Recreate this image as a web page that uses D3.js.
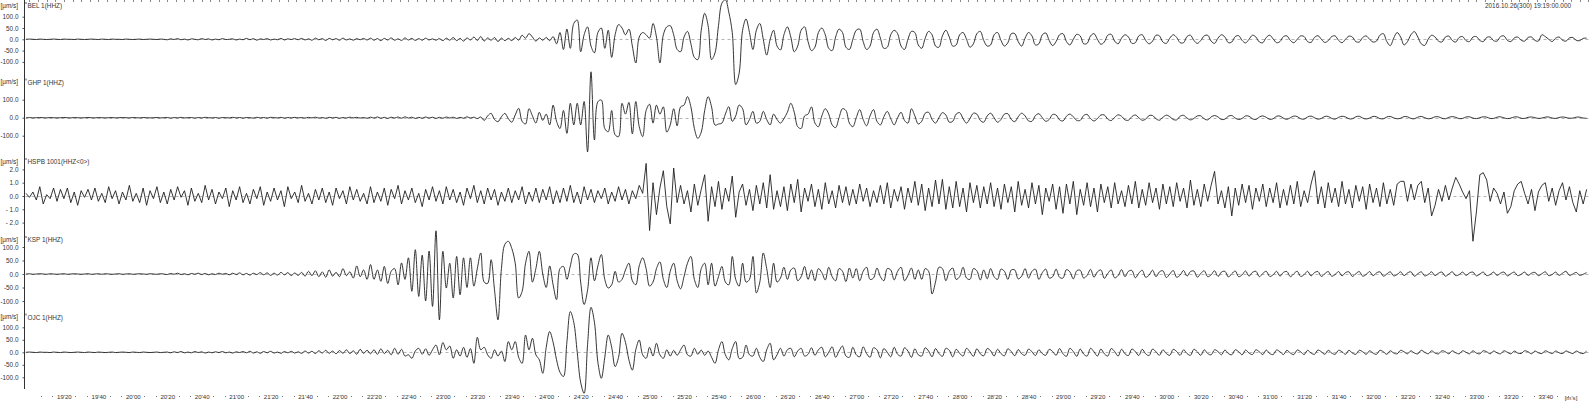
<!DOCTYPE html>
<html>
<head>
<meta charset="utf-8">
<script src="https://cdn.jsdelivr.net/npm/d3@7"></script>
<style>
  html, body { margin: 0; padding: 0; background: #fff; }
  svg { display: block; }
  text { font-family: "Liberation Sans", Arial, sans-serif; font-size: 6.4px; fill: #333; }
  .time-axis text { font-size: 6.1px; }
</style>
</head>
<body>
<div id="seismo"></div>
<script>
// seconds counted from 19'00 of the hour; one sample every 2 s
const START_SEC = 1138;
const STEP_SEC = 2;

const stationNames = ["BEL 1(HHZ)", "GHP 1(HHZ)", "HSPB 1001(HHZ<0>)", "KSP 1(HHZ)", "OJC 1(HHZ)"];
const unitLabel = "[µm/s]";
const headerLabel = "2016.10.26(300) 19:19:00.000";
const timeUnitLabel = "[m's]";

const belTicks = [100, 50, 0, -50, -100];
const ghpTicks = [100, 0, -100];
const hspbTicks = [2, 1, 0, -1, -2];
const kspTicks = [100, 50, 0, -50, -100];
const ojcTicks = [100, 50, 0, -50, -100];

const timeTicks = d3.range(1160, 2021, 20);   // 19'20 ... 33'40
const topTimeTicks = d3.range(1140, 2046, 5);
const dotTimeTicks = d3.range(0, 136).map(k => 1140 + (k * 20) / 3).filter((t, k) => k % 3 !== 0);

const belValues = [
  0,1,0,-1,1,0,-1,0,1,0,-1,1,0,0,-1,1,0,-1,0,1,
  0,-1,1,0,-1,1,0,0,-1,1,0,-1,0,1,-1,0,1,0,-1,1,
  0,-2,2,-1,3,-2,1,-3,2,0,-2,3,-1,2,-3,1,-2,3,-1,0,
  2,-3,1,-2,4,-2,3,-4,2,-1,3,-3,1,-2,4,-3,2,-1,3,-2,
  4,-3,2,-4,5,-2,3,-5,4,-2,3,-4,5,-3,2,-4,3,-2,4,-3,
  5,-4,3,-6,4,-3,6,-4,2,-5,6,-3,4,-5,3,-4,5,-3,2,-4,
  3,-6,5,-4,8,-6,4,-8,6,-3,10,-5,12,-8,6,-4,8,-10,5,-6,
  4,-6,8,-4,18,5,25,10,-8,6,-4,8,-6,12,-20,30,-45,45,-40,70,
  85,-55,20,55,-30,-60,30,50,-40,40,-80,20,65,50,20,45,-30,-105,10,30,
  20,5,70,10,-105,20,55,60,20,-45,-55,10,35,-20,-80,-90,40,115,60,-90,
  -60,60,160,175,120,30,-200,-150,40,90,30,-45,40,70,0,-70,0,40,-30,-47,
  20,55,10,-55,-30,40,55,-10,-50,-35,30,50,20,-40,-50,10,45,30,-35,-45,
  0,40,45,-10,-45,-30,30,45,5,-40,-35,20,40,25,-30,-45,0,35,30,-25,
  -40,5,35,20,-30,-35,15,40,10,-30,-25,20,30,0,-35,-20,25,35,-5,-30,
  -25,20,30,-5,-30,-15,25,25,-10,-30,5,30,15,-25,-20,20,28,-5,-28,-10,
  20,25,-10,-25,0,22,15,-20,-18,15,25,0,-22,-12,18,22,-8,-20,5,20,
  10,-18,-15,15,20,-5,-20,-8,18,15,-12,-18,5,20,8,-15,-15,12,18,-5,
  -18,-5,15,18,-8,-18,5,20,10,-15,-12,12,16,-5,-16,0,18,10,-12,-15,
  8,18,2,-15,-10,12,15,-5,-15,0,15,12,-10,-14,8,16,0,-14,-6,12,
  15,-5,-15,0,14,10,-10,-12,8,15,0,-12,-8,18,25,-10,-28,5,30,10,
  -25,-10,20,34,10,-20,-27,0,18,10,-8,-12,10,14,-5,-12,8,12,-6,-10,
  10,12,-5,-10,8,10,-6,-8,12,15,-5,-10,6,10,-4,-8,8,10,-5,-8,
  20,12,0,-10,5,10,-4,-8,6,8,-5,-6,4,5
];

const ghpValues = [
  0,1,-1,0,1,0,-1,1,0,-1,0,1,0,-1,1,0,-1,0,1,0,
  -1,1,0,-1,0,1,-1,0,1,0,-1,1,0,-1,1,0,-1,0,1,-1,
  0,1,-2,1,-1,2,-1,0,1,-2,1,-1,2,0,-1,1,-2,1,0,-1,
  2,-1,1,-2,1,0,-2,2,-1,1,-2,2,0,-1,2,-2,1,-1,2,-1,
  1,-2,2,-1,3,-2,1,-3,2,-1,2,-3,1,-2,3,-1,2,-2,1,-3,
  3,-2,4,-3,2,-4,3,-2,4,-3,5,-2,3,-4,2,-3,4,-2,3,-4,
  2,-3,4,-2,3,-4,2,-3,5,-2,3,-5,4,-15,10,24,-10,-22,5,24,
  -5,-25,15,52,-20,-35,50,10,-30,30,-15,20,-40,70,-20,-60,40,-87,80,-40,
  80,-40,90,-190,255,-124,89,98,-60,-78,40,-95,-105,80,20,85,-90,90,-50,-105,
  40,75,-30,70,20,60,-80,-40,50,-45,60,70,117,60,-60,-115,-80,40,117,60,
  -41,-35,-30,20,61,-20,10,70,50,-40,-10,35,-30,-20,35,-10,-40,20,-10,-30,
  -5,30,80,30,-50,-60,10,20,60,-30,-50,10,50,20,-40,-55,0,50,40,-30,
  -50,0,45,-10,-45,10,45,-20,-40,5,35,-5,-40,0,30,-15,-30,50,10,-35,
  -20,25,30,-10,-30,0,28,15,-25,-20,20,28,-5,-30,-5,25,20,-15,-25,10,
  25,0,-25,-10,20,22,-10,-22,5,25,10,-18,-20,12,22,0,-20,-10,18,15,
  -12,-18,8,20,5,-15,-15,12,18,-5,-18,-5,15,15,-8,-16,2,16,8,-12,
  -14,6,15,0,-14,-8,12,12,-6,-14,2,14,6,-10,-12,8,13,-2,-12,-4,
  10,10,-6,-12,4,12,4,-10,-8,8,12,-2,-10,-4,10,8,-6,-10,4,10,
  2,-9,-6,8,9,-3,-9,0,9,6,-6,-8,4,9,0,-8,-4,7,7,-4,
  -8,2,8,4,-6,-6,5,8,-2,-7,-2,7,5,-5,-6,4,7,-1,-6,-3,
  6,5,-4,-6,3,7,0,-6,-3,5,5,-3,-6,2,6,2,-5,-4,4,5,
  -2,-5,0,5,3,-4,-4,3,5,-1,-5,-2,4,4,-3,-4,2,4,0,-4,
  -2,3,4,-2,-4,1,4,1,-3,-2,3,3,-2,-3
];

const hspbValues = [
  0.2,-0.1,0.3,-0.3,0.7,-0.6,0.1,-0.2,0.6,-0.4,0.5,-0.2,0.6,-0.5,0.3,-0.7,0.4,-0.1,0.5,-0.3,
  0.6,-0.4,0.2,-0.5,0.7,-0.2,0.4,-0.6,0.3,-0.3,0.8,-0.4,0.2,-0.5,0.6,-0.7,0.4,-0.2,0.7,-0.5,
  0.3,-0.6,0.5,-0.3,0.7,-0.1,0.4,-0.7,0.6,-0.4,0.2,-0.5,0.8,-0.3,0.5,-0.6,0.3,-0.2,0.6,-0.8,
  0.4,-0.3,0.7,-0.5,0.2,-0.6,0.5,-0.2,0.7,-0.7,0.3,-0.4,0.6,-0.3,0.4,-0.8,0.7,-0.2,0.3,-0.5,
  0.8,-0.4,0.2,-0.6,0.5,-0.3,0.6,-0.5,0.3,-0.7,0.6,-0.2,0.4,-0.6,0.7,-0.3,0.5,-0.4,0.2,-0.6,
  0.7,-0.5,0.3,-0.4,0.6,-0.7,0.5,-0.2,0.8,-0.6,0.4,-0.3,0.6,-0.5,0.2,-0.8,0.5,-0.3,0.7,-0.4,
  0.4,-0.6,0.7,-0.3,0.5,-0.5,0.3,-0.7,0.6,-0.2,0.8,-0.5,0.4,-0.6,0.6,-0.3,0.5,-0.7,0.3,-0.4,
  0.6,-0.5,0.4,-0.3,0.7,-0.6,0.3,-0.4,0.6,-0.5,0.5,-0.3,0.7,-0.6,0.4,-0.5,0.6,-0.4,0.8,-0.5,
  0.3,-0.6,0.7,-0.3,0.5,-0.5,0.4,-0.2,0.6,-0.6,0.3,-0.4,0.7,-0.3,0.5,-0.6,0.4,-0.2,0.8,0.2,
  2.45,-2.6,1.0,-1.4,0.6,1.9,-0.8,-2.1,2.1,-0.5,0.8,-0.6,0.4,-1.2,0.9,-0.7,0.5,1.6,-1.9,0.7,
  -0.8,1.1,-1.0,0.6,-0.4,1.5,-1.6,0.3,0.9,-0.7,0.5,-1.1,0.8,-0.6,1.0,-0.9,1.6,-1.0,0.4,-0.8,
  0.7,-1.1,0.9,-0.5,1.25,-1.2,0.6,-0.4,0.9,-0.8,0.5,-1.0,1.0,-0.6,0.4,-0.9,0.8,-0.5,0.7,-0.7,
  0.5,-0.6,0.9,-0.4,0.6,-0.8,0.4,-0.5,0.8,-0.6,1.0,-0.9,0.5,-0.4,0.7,-1.0,0.6,-0.5,1.1,-0.7,
  0.9,-1.1,0.6,-0.8,1.2,-0.6,1.25,-1.0,0.7,-0.9,1.1,-0.8,0.6,-1.2,1.0,-0.5,0.8,-0.9,0.7,-0.6,
  1.0,-0.8,0.6,-1.0,0.9,-0.5,0.7,-1.2,1.1,-0.7,0.5,-0.9,1.0,-0.6,0.8,-1.4,0.6,-0.4,0.9,-1.0,
  0.7,-1.3,0.9,-0.6,1.1,-1.4,0.5,-0.7,1.0,-0.8,0.6,-1.2,0.9,-0.5,0.7,-0.9,1.0,-0.6,0.4,-0.8,
  0.8,-0.6,1.1,-0.9,0.5,-0.7,1.0,-0.5,0.6,-1.0,0.9,-0.6,0.7,-0.8,1.0,-0.4,0.6,-0.9,1.2,-0.7,
  0.5,-0.8,0.9,-0.4,0.8,1.85,-0.6,0.4,-0.9,0.7,-1.5,0.6,-0.7,0.9,-0.5,0.8,-1.0,0.6,-0.4,0.9,
  -0.8,0.6,-0.5,1.0,-0.9,0.5,-0.7,0.8,-0.6,1.1,-0.8,0.4,-0.5,0.9,1.9,-0.6,0.7,-0.9,1.0,-0.5,
  0.6,-0.8,1.1,-0.6,0.5,-0.9,0.8,-0.4,0.7,-1.0,0.9,-0.5,0.6,-0.8,1.0,-0.6,0.5,-0.7,0.9,1.1,
  1.1,-0.4,0.9,-0.3,0.8,1.1,-0.5,0.6,-1.5,-0.7,0.5,-0.4,0.8,-0.3,0.6,1.4,0.9,0.3,-0.2,0.4,
  -3.4,-1.2,1.6,1.75,1.2,-0.4,0.6,0.2,-0.6,0.3,-1.3,-0.8,0.4,0.9,1.1,0.2,-0.6,0.5,-1.1,0.3,
  0.8,1.0,-0.4,0.6,-0.7,0.4,1.0,-0.3,0.7,-0.5,-1.2,0.4,-0.6,0.5
];

const kspValues = [
  0,1,-1,0,1,0,-1,1,0,-1,0,1,-1,0,1,0,-1,0,1,-1,
  0,1,-1,1,0,-1,0,1,-1,0,1,-1,0,1,0,-1,1,0,-1,1,
  0,-2,2,-1,3,-2,1,-3,2,-1,3,-2,2,-3,1,-2,3,-1,2,-3,
  3,-2,4,-3,2,-4,3,-2,5,-3,4,-5,3,-4,6,-3,5,-6,4,-5,
  6,-8,10,-6,12,-10,8,-12,15,-8,6,-10,20,-6,8,-15,30,-10,15,-20,
  35,-20,15,-27,28,-35,10,20,-40,41,-20,60,-64,90,-83,70,-100,85,-120,160,
  -170,84,-52,40,-89,65,-77,60,-50,60,-45,20,78,-30,-35,53,-60,-170,20,110,
  121,95,40,-89,-65,40,84,-30,20,84,0,-50,30,-40,-95,20,28,-20,30,74,
  74,-30,-113,-60,60,-25,30,72,-20,-52,-40,10,-30,-20,15,40,-25,-40,30,60,
  20,-45,-30,20,45,-20,-50,10,40,-25,-55,-10,40,65,-20,-50,20,40,-40,40,
  -45,-10,28,-30,-40,65,-20,-45,40,-30,-20,65,-70,-30,78,20,-50,40,-30,-15,
  25,-20,15,22,-25,-10,28,-20,15,-25,20,5,-22,25,-10,-25,20,10,-28,22,
  -15,20,-25,10,25,-20,-15,22,-10,-25,20,15,-22,10,25,-25,-5,22,-20,15,
  -20,20,10,-74,-30,25,20,-25,10,22,-20,-10,25,-15,-20,20,12,-22,15,-18,
  20,-10,-20,18,10,-20,15,15,-18,-8,20,-15,10,18,-20,5,18,-15,-10,18,
  -12,-15,16,8,-18,12,14,-15,-5,17,-12,8,15,-16,2,15,-14,-6,16,-10,
  10,13,-14,3,14,-12,-4,14,-10,8,12,-13,0,13,-12,-4,13,-8,9,11,
  -12,2,12,-10,-3,12,-9,7,10,-11,1,11,-10,-3,11,-8,6,10,-10,2,
  10,-9,-3,10,-8,6,9,-10,1,10,-9,-2,10,-7,5,9,-9,1,9,-8,
  -2,9,-7,5,8,-9,1,9,-8,-2,9,-6,4,8,-8,0,8,-7,-2,8,
  -6,4,8,-8,1,8,-7,-2,8,-6,3,7,-8,0,8,-6,-2,7,-5,4,
  7,-7,0,7,-6,-2,7,-5,3,7,-7,1,7,-6,-1,7,-5,3,6,-6,
  1,8,-6,-2,7,-5,3,10,-5,0,6,-5,-1,5
];

const ojcValues = [
  0,1,0,-1,1,0,0,-1,1,0,-1,1,0,-1,0,1,0,-1,1,0,
  -1,1,0,-1,0,1,-1,0,1,0,-1,1,0,-1,1,0,-1,0,1,-1,
  0,1,-2,2,-1,3,-2,1,-2,3,-1,2,-3,1,-2,2,-1,3,-2,1,
  -3,2,-1,3,-2,4,-3,2,-4,3,-2,4,-3,1,-4,3,-2,4,-3,2,
  -4,5,-3,4,-5,6,-3,8,-4,5,-6,7,-4,10,-5,6,-8,12,-4,8,
  -6,10,-8,14,-5,8,-10,16,-8,12,-15,-10,-24,5,16,-8,14,-12,10,29,
  -10,39,10,25,-24,10,-15,20,-20,15,-44,60,10,20,-10,-24,10,-15,5,-37,
  43,10,43,-20,-44,69,10,56,-10,-30,-84,20,83,40,-30,-80,-97,40,163,120,
  0,-120,-164,30,180,120,-40,-104,-20,69,20,-57,-20,76,40,-30,-71,10,49,-10,
  -24,20,-15,36,-10,-24,10,-15,8,-12,10,29,-10,-15,16,-8,9,-12,5,-20,
  -44,10,43,-10,-30,15,43,-25,-20,29,-10,-15,16,-20,-37,10,36,-30,-10,16,
  -15,10,16,-18,5,16,-15,-8,18,-12,10,20,-18,0,22,-20,5,25,-15,-20,
  20,-10,-18,22,-5,-20,18,10,-22,15,0,-18,20,-8,-15,18,5,-20,14,-10,
  -15,18,5,-18,15,-5,-16,16,8,-18,12,-4,-15,16,2,-16,14,-6,-14,15,
  6,-15,12,-5,-14,14,3,-14,11,-6,-12,13,2,-13,10,-5,-12,12,3,-12,
  15,-6,-16,16,3,-16,13,-7,-15,16,2,-15,13,-6,-15,15,3,-15,12,-6,
  -13,13,3,-13,12,-6,-13,13,2,-12,10,-5,-12,12,3,-12,10,-5,-12,12,
  2,-12,10,-5,-10,10,3,-10,9,-5,-10,10,2,-10,9,-3,-9,10,2,-9,
  9,-5,-9,9,2,-9,8,-3,-9,9,2,-9,8,-3,-8,9,2,-8,8,-3,
  -8,8,2,-8,8,-3,-8,8,2,-8,6,-3,-8,8,2,-8,6,-3,-6,8,
  2,-6,6,-3,-6,8,0,-6,6,-3,-6,6,2,-6,6,-2,-6,6,0,-6,
  6,-3,-6,6,2,-6,5,-2,-6,6,0,-6,5,-3,-5,6,2,-6,5,-2,
  -5,6,0,-5,5,-2,-5,5,0,-5,5,-2,-5,5
];

(function() {
  const WIDTH = 1591;
  const HEIGHT = 410;
  const AXIS_X = 24.5;
  const TRACE_COLOR = "#1f1f1f";
  const GRID_COLOR = "#b4b4b4";

  const fmtPlain = d => d.toFixed(1);
  const fmtSpaced = d => (d < 0 ? "- " + (-d).toFixed(1) : d.toFixed(1));
  const fmtTime = t => `${Math.floor(t / 60)}'${String(t % 60).padStart(2, "0")}`;

  const smooth = d3.curveCatmullRom.alpha(0.5);

  // zero line position and pixels per unit for each station
  const panels = [
    { name: stationNames[0], values: belValues, ticks: belTicks, zero: 39.3, k: 0.226, top: 5, fmt: fmtPlain, curve: smooth },
    { name: stationNames[1], values: ghpValues, ticks: ghpTicks, zero: 117.7, k: 0.18, top: 81.5, fmt: fmtPlain, curve: smooth },
    { name: stationNames[2], values: hspbValues, ticks: hspbTicks, zero: 196, k: 13.3, top: 161, fmt: fmtSpaced, curve: d3.curveLinear },
    { name: stationNames[3], values: kspValues, ticks: kspTicks, zero: 274, k: 0.27, top: 239, fmt: fmtPlain, curve: smooth },
    { name: stationNames[4], values: ojcValues, ticks: ojcTicks, zero: 352.3, k: 0.25, top: 316.5, fmt: fmtPlain, curve: smooth }
  ];

  const svg = d3
    .select("#seismo")
    .append("svg")
    .attr("width", WIDTH)
    .attr("height", HEIGHT);

  const x = d3.scaleLinear().domain([1160, 2020]).range([63.9, 1545.3]);

  function drawTimeAxis() {
    svg
      .append("g")
      .selectAll("line")
      .data(topTimeTicks)
      .enter()
      .append("line")
      .attr("x1", d => Math.round(x(d)) + 0.5)
      .attr("x2", d => Math.round(x(d)) + 0.5)
      .attr("y1", 0)
      .attr("y2", 2)
      .attr("stroke", "#8a8a8a")
      .attr("stroke-width", 1);

    svg
      .append("g")
      .selectAll("rect")
      .data(dotTimeTicks)
      .enter()
      .append("rect")
      .attr("x", d => Math.round(x(d)))
      .attr("y", 396)
      .attr("width", 1)
      .attr("height", 1)
      .attr("fill", "#777");

    const axis = d3
      .axisBottom(x)
      .tickValues(timeTicks)
      .tickSize(0)
      .tickPadding(0)
      .tickFormat(fmtTime);

    const g = svg
      .append("g")
      .attr("class", "time-axis")
      .attr("transform", "translate(0,393)")
      .call(axis);
    g.select(".domain").remove();
    g.selectAll(".tick line").remove();
    g.selectAll("text").attr("y", 1.4).attr("font-family", null).attr("font-size", null);

    svg
      .append("text")
      .attr("x", 1571)
      .attr("y", 397)
      .attr("text-anchor", "middle")
      .attr("dominant-baseline", "central")
      .style("font-size", "6.1px")
      .text(timeUnitLabel);

    svg
      .append("text")
      .attr("x", 1571)
      .attr("y", 5)
      .attr("text-anchor", "end")
      .attr("dominant-baseline", "central")
      .text(headerLabel);
  }

  function drawPanel(p) {
    const y = d3
      .scaleLinear()
      .domain([-1, 1])
      .range([p.zero + p.k, p.zero - p.k]);

    svg
      .append("line")
      .attr("x1", AXIS_X + 1)
      .attr("x2", WIDTH)
      .attr("y1", Math.round(y(0)) + 0.5)
      .attr("y2", Math.round(y(0)) + 0.5)
      .attr("stroke", GRID_COLOR)
      .attr("stroke-width", 1)
      .attr("stroke-dasharray", "3,3");

    const axis = d3
      .axisLeft(y)
      .tickValues(p.ticks)
      .tickSize(2)
      .tickPadding(4)
      .tickFormat(p.fmt);

    const g = svg.append("g").attr("transform", `translate(${AXIS_X},0)`).call(axis);
    g.select(".domain").remove();
    g.selectAll("line").attr("stroke", "#555");
    g.selectAll("text").attr("font-family", null).attr("font-size", null).attr("fill", "#333");

    svg
      .append("text")
      .attr("x", 0.5)
      .attr("y", p.top)
      .attr("dominant-baseline", "central")
      .text(unitLabel);

    svg
      .append("line")
      .attr("x1", AXIS_X + 1.5)
      .attr("x2", AXIS_X + 1.5)
      .attr("y1", p.top - 3)
      .attr("y2", p.top - 1)
      .attr("stroke", "#555");

    svg
      .append("text")
      .attr("x", 27.5)
      .attr("y", p.top + 0.5)
      .attr("dominant-baseline", "central")
      .text(p.name);

    const line = d3
      .line()
      .x((d, i) => x(START_SEC + i * STEP_SEC))
      .y(d => y(d))
      .curve(p.curve);

    svg
      .append("path")
      .datum(p.values)
      .attr("d", line)
      .attr("fill", "none")
      .attr("stroke", TRACE_COLOR)
      .attr("stroke-width", 0.9)
      .attr("stroke-linejoin", "round");
  }

  drawTimeAxis();
  panels.forEach(drawPanel);

  svg
    .append("line")
    .attr("x1", AXIS_X)
    .attr("x2", AXIS_X)
    .attr("y1", 0)
    .attr("y2", 389)
    .attr("stroke", "#333")
    .attr("stroke-width", 1);
})();
</script>
</body>
</html>
